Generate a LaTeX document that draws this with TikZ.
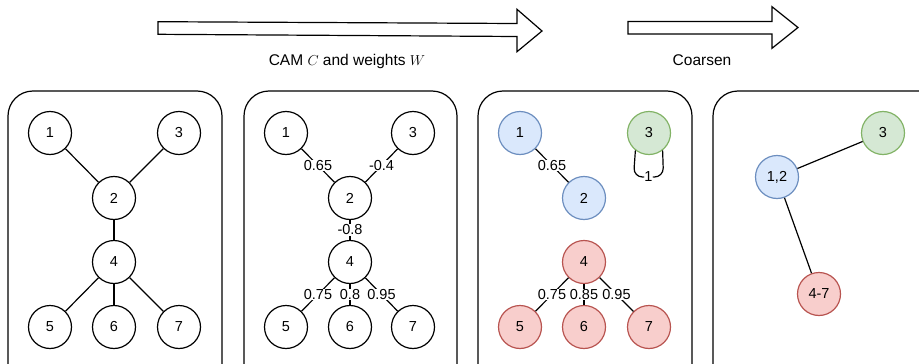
\documentclass[tikz,border=0pt]{standalone}
\usepackage{fontspec}
\setmainfont{Liberation Sans}
\definecolor{bfill}{HTML}{DAE8FC}\definecolor{bdraw}{HTML}{6C8EBF}
\definecolor{gfill}{HTML}{D5E8D4}\definecolor{gdraw}{HTML}{82B366}
\definecolor{rfill}{HTML}{F8CECC}\definecolor{rdraw}{HTML}{B85450}
\tikzset{
  vtx/.style={circle,draw=black,fill=white,line width=1.2pt,minimum size=43pt,inner sep=0pt,font=\fontsize{14.5}{16}\selectfont},
  bv/.style={vtx,draw=bdraw,fill=bfill},
  gv/.style={vtx,draw=gdraw,fill=gfill},
  rv/.style={vtx,draw=rdraw,fill=rfill},
  panel/.style={draw=black,line width=1.2pt,rounded corners=25pt},
  edge/.style={draw=black,line width=1.2pt},
  wlab/.style={fill=white,inner sep=0.8pt,font=\fontsize{14.5}{16}\selectfont},
  bigarrow/.style={draw=black,fill=white,line width=1.2pt,line join=miter},
  captxt/.style={font=\fontsize{15.5}{17}\selectfont}
}
\begin{document}
\begin{tikzpicture}[x=1pt,y=-1pt]
\useasboundingbox (0,0) rectangle (919,364);
\clip (0,0) rectangle (919,364);
% arrows
\draw[bigarrow] (158,21.7) -- (517,23.5) -- (517,9.3) -- (542,31) -- (517,51.7) -- (517,36.5) -- (158,34.3) -- cycle;
\node[captxt] (t1) at (347,61) {CAM $C$ and weights $W$};
\draw[bigarrow] (628,21.5) -- (772,21.5) -- (772,6.7) -- (798,27.5) -- (772,48.3) -- (772,34) -- (628,34) -- cycle;
\node[captxt] (t2) at (702,60) {Coarsen};
% panels
\draw[panel] (8,91) rectangle (222,390);
\draw[panel] (244,91) rectangle (457,390);
\draw[panel] (478,91) rectangle (692,390);
\draw[panel] (713,91) rectangle (950,390);
% panel 1
\node[vtx] (a1) at (50,133) {1};
\node[vtx] (a3) at (179,133) {3};
\node[vtx] (a2) at (114,198) {2};
\node[vtx] (a4) at (114,262) {4};
\node[vtx] (a5) at (50,327) {5};
\node[vtx] (a6) at (114,327) {6};
\node[vtx] (a7) at (179,327) {7};
\draw[edge] (a1) -- (a2);
\draw[edge] (a3) -- (a2);
\draw[edge] (a2) -- (a4);
\draw[edge] (a4) -- (a5);
\draw[edge] (a4) -- (a6);
\draw[edge] (a4) -- (a7);
% panel 2
\node[vtx] (b1) at (286,133) {1};
\node[vtx] (b3) at (413,133) {3};
\node[vtx] (b2) at (350,198) {2};
\node[vtx] (b4) at (350,262) {4};
\node[vtx] (b5) at (286,327) {5};
\node[vtx] (b6) at (350,327) {6};
\node[vtx] (b7) at (413,327) {7};
\draw[edge] (b1) -- node[wlab]{0.65} (b2);
\draw[edge] (b3) -- node[wlab]{-0.4} (b2);
\draw[edge] (b2) -- node[wlab]{-0.8} (b4);
\draw[edge] (b4) -- node[wlab]{0.75} (b5);
\draw[edge] (b4) -- node[wlab]{0.8} (b6);
\draw[edge] (b4) -- node[wlab]{0.95} (b7);
% panel 3
\node[bv] (c1n) at (520,133) {1};
\node[gv] (c3) at (649,133) {3};
\node[bv] (c2n) at (584,198) {2};
\node[rv] (c4) at (584,262) {4};
\node[rv] (c5) at (520,327) {5};
\node[rv] (c6) at (584,327) {6};
\node[rv] (c7) at (649,327) {7};
\draw[edge] (c1n) -- node[wlab]{0.65} (c2n);
\draw[edge,rounded corners=9pt] (c3.232) -- (633.5,177) -- node[wlab,inner sep=0.5pt]{1} (663.5,177) -- (c3.308);
\draw[edge] (c4) -- node[wlab]{0.75} (c5);
\draw[edge] (c4) -- node[wlab]{0.85} (c6);
\draw[edge] (c4) -- node[wlab]{0.95} (c7);
% panel 4
\node[gv] (d3) at (883,133) {3};
\node[bv] (d12) at (777,177) {1,2};
\node[rv] (d47) at (819,294) {4-7};
\draw[edge] (d12) -- (d3);
\draw[edge] (d12) -- (d47);
\end{tikzpicture}
\end{document}
